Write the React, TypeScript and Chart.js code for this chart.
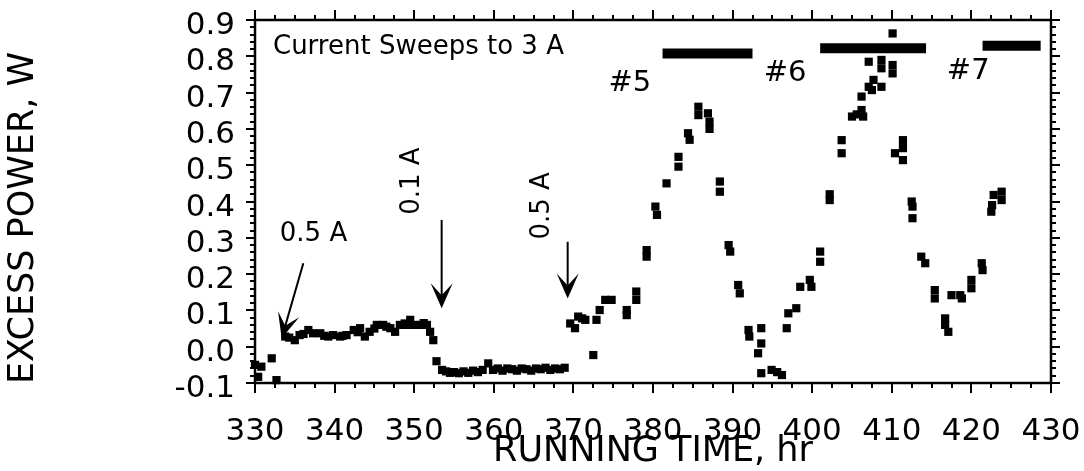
import React, { useEffect, useRef } from "react";
import { Chart, registerables } from "chart.js";

Chart.register(...registerables);

// ---- data ----
const timeHr = [
  330.0, 330.4, 330.8, 332.1, 332.7,
  333.8, 334.3, 335.0, 335.6, 336.1, 336.7, 337.3, 338.2, 338.7, 339.2, 339.8, 340.7, 341.0, 341.5,
  342.4, 342.9, 343.2, 343.8, 344.4, 345.0, 345.3, 346.1, 346.5, 347.0, 347.6, 348.2, 348.8, 349.1,
  349.5, 350.1, 350.9, 351.2, 351.6, 352.0, 352.4,
  352.8, 353.5, 354.0,
  354.5, 355.0, 355.6, 356.2, 356.8, 357.4, 358.0, 358.6, 359.3, 359.9, 360.5, 361.1, 361.7, 362.3,
  362.9, 363.5, 364.1, 364.7, 365.3, 365.9, 366.5, 367.1, 367.7, 368.3, 368.9,
  369.6, 370.2, 370.6, 371.1, 371.5, 372.5, 372.9, 373.3, 374.0, 374.8, 376.7, 376.7, 377.9, 377.9,
  379.2, 379.2, 380.3, 380.5, 381.7, 383.2, 383.2, 384.4, 384.6, 385.7, 385.7, 386.9, 387.1, 387.1,
  388.4, 388.4, 389.5, 389.7, 390.7, 390.9, 392.0, 392.1, 393.6, 393.6, 393.2, 393.6, 394.9, 395.6,
  396.2, 396.8, 397.0, 398.0, 398.5, 399.7, 399.9, 401.0, 401.0, 402.2, 402.2, 403.7, 403.7, 405.0,
  405.6, 406.4, 406.2, 406.2, 407.1, 407.1, 407.5, 407.7, 408.7, 408.7, 408.7, 410.1, 410.1, 410.1,
  411.4, 411.4, 411.4, 410.4, 412.5, 412.6, 412.6, 413.7, 414.2, 415.4, 415.4, 416.7, 416.7, 417.1,
  417.5, 418.6, 418.8, 420.0, 420.0, 421.3, 421.4, 422.5, 422.6, 422.8, 423.8, 423.8,
];
const powerW = [
  -0.050, -0.083, -0.055, -0.032, -0.092,
  0.028, 0.025, 0.018, 0.032, 0.035, 0.046, 0.037, 0.037, 0.030, 0.028, 0.032, 0.028, 0.030, 0.032,
  0.046, 0.040, 0.051, 0.028, 0.041, 0.050, 0.060, 0.060, 0.055, 0.051, 0.041, 0.060, 0.064, 0.060,
  0.074, 0.060, 0.060, 0.065, 0.060, 0.041, 0.018,
  -0.040, -0.064, -0.068,
  -0.072, -0.070, -0.073, -0.068, -0.072, -0.066, -0.070, -0.064, -0.046, -0.064, -0.060, -0.066, -0.060, -0.062,
  -0.066, -0.060, -0.062, -0.066, -0.060, -0.062, -0.058, -0.064, -0.060, -0.062, -0.058,
  0.064, 0.051, 0.083, 0.078, 0.074, -0.023, 0.074, 0.101, 0.129, 0.129, 0.101, 0.087, 0.152, 0.129,
  0.266, 0.248, 0.386, 0.363, 0.450, 0.523, 0.496, 0.588, 0.570, 0.661, 0.638, 0.643, 0.620, 0.600,
  0.455, 0.427, 0.280, 0.262, 0.170, 0.147, 0.046, 0.028, 0.051, 0.009, -0.018, -0.073, -0.064, -0.070,
  -0.078, 0.051, 0.092, 0.106, 0.165, 0.184, 0.165, 0.262, 0.234, 0.404, 0.420, 0.569, 0.533, 0.634,
  0.640, 0.634, 0.689, 0.652, 0.785, 0.716, 0.707, 0.735, 0.790, 0.767, 0.716, 0.863, 0.776, 0.753,
  0.569, 0.547, 0.514, 0.533, 0.400, 0.386, 0.354, 0.248, 0.230, 0.156, 0.133, 0.078, 0.060, 0.041,
  0.142, 0.142, 0.133, 0.184, 0.161, 0.230, 0.211, 0.372, 0.390, 0.418, 0.404, 0.427,
];

// current-sweep bars (#5, #6, #7)
const barStart = [381.2, 401.0, 421.4];
const barEnd = [392.5, 414.3, 428.7];
const barLevel = [0.808, 0.822, 0.829];

// annotations
const noteText = ["Current Sweeps to 3 A", "0.5 A", "0.1 A", "0.5 A", "#5", "#6", "#7"];
const noteX = [332.26, 337.35, 349.72, 366.06, 377.1, 396.6, 419.6];
const noteY = [0.826, 0.31, 0.456, 0.388, 0.726, 0.754, 0.757];
const noteRotated = [false, false, true, true, false, false, false];

// arrows
const arrowFromX = [336.07, 353.45, 369.28];
const arrowFromY = [0.23, 0.349, 0.289];
const arrowToX = [333.35, 353.45, 369.28];
const arrowToY = [0.023, 0.106, 0.133];

// axis ticks
const xMin = 330, xMax = 430, xMajor = 10, xMinor = 2.5;
const yMin = -0.1, yMax = 0.9, yMajor = 0.1, yMinor = 0.02;

const xTitle = "RUNNING TIME, hr";
const yTitle = "EXCESS POWER, W";

const FONT = "'DejaVu Sans', 'Verdana', sans-serif";

function drawArrow(ctx: CanvasRenderingContext2D, x1: number, y1: number, x2: number, y2: number) {
  const ang = Math.atan2(y2 - y1, x2 - x1);
  const c = Math.cos(ang), s = Math.sin(ang);
  const L = 25, W = 11, N = 13;
  const bx = x2 - c * N, by = y2 - s * N;
  ctx.beginPath();
  ctx.moveTo(x1, y1);
  ctx.lineTo(bx, by);
  ctx.lineWidth = 2;
  ctx.strokeStyle = "#000";
  ctx.stroke();
  ctx.beginPath();
  ctx.moveTo(x2, y2);
  ctx.lineTo(x2 - c * L - s * W, y2 - s * L + c * W);
  ctx.lineTo(bx, by);
  ctx.lineTo(x2 - c * L + s * W, y2 - s * L - c * W);
  ctx.closePath();
  ctx.fillStyle = "#000";
  ctx.fill();
}

function noPad(s: any) {
  s.paddingTop = 0;
  s.paddingBottom = 0;
  s.paddingLeft = 0;
  s.paddingRight = 0;
}

export default function App() {
  const ref = useRef<HTMLCanvasElement>(null);

  useEffect(() => {
    const canvas = ref.current;
    if (!canvas) return;

    const points = timeHr.map((x, i) => ({ x, y: powerW[i] }));
    const barSets = barStart.map((s, i) => ({
      type: "line" as const,
      data: [
        { x: s, y: barLevel[i] },
        { x: barEnd[i], y: barLevel[i] },
      ],
      borderColor: "#000",
      backgroundColor: "#000",
      borderWidth: 10,
      borderCapStyle: "butt" as const,
      pointRadius: 0,
      showLine: true,
      fill: false,
      clip: false as const,
    }));

    const decor = {
      id: "decor",
      afterDraw(chart: any) {
        const { ctx, chartArea: a, scales } = chart;
        const xs = scales.x, ys = scales.y;
        ctx.save();
        ctx.strokeStyle = "#000";
        ctx.fillStyle = "#000";
        // frame
        ctx.lineWidth = 2.5;
        ctx.strokeRect(a.left, a.top, a.right - a.left, a.bottom - a.top);
        // ticks
        ctx.lineWidth = 2;
        ctx.beginPath();
        const nx = Math.round((xMax - xMin) / xMinor);
        for (let i = 0; i <= nx; i++) {
          const v = xMin + i * xMinor;
          const px = Math.round(xs.getPixelForValue(v));
          const major = i % Math.round(xMajor / xMinor) === 0;
          const len = major ? 10 : 5;
          ctx.moveTo(px, a.bottom);
          ctx.lineTo(px, a.bottom + len);
          ctx.moveTo(px, a.top);
          ctx.lineTo(px, a.top - len);
        }
        const ny = Math.round((yMax - yMin) / yMinor);
        for (let i = 0; i <= ny; i++) {
          const v = yMin + i * yMinor;
          const py = Math.round(ys.getPixelForValue(v));
          const major = i % Math.round(yMajor / yMinor) === 0;
          const len = major ? 9 : 5;
          ctx.moveTo(a.left, py);
          ctx.lineTo(a.left - len, py);
          ctx.moveTo(a.right, py);
          ctx.lineTo(a.right + len, py);
        }
        ctx.stroke();

        // arrows
        for (let i = 0; i < arrowFromX.length; i++) {
          drawArrow(
            ctx,
            xs.getPixelForValue(arrowFromX[i]),
            ys.getPixelForValue(arrowFromY[i]),
            xs.getPixelForValue(arrowToX[i]),
            ys.getPixelForValue(arrowToY[i])
          );
        }

        // notes
        ctx.fillStyle = "#000";
        ctx.textBaseline = "middle";
        for (let i = 0; i < noteText.length; i++) {
          const px = xs.getPixelForValue(noteX[i]);
          const py = ys.getPixelForValue(noteY[i]);
          const t = noteText[i];
          const size = i === 0 ? 26 : t.startsWith("#") ? 29 : 26;
          ctx.font = `${size}px ${FONT}`;
          ctx.save();
          ctx.translate(px, py);
          if (noteRotated[i]) ctx.rotate(-Math.PI / 2);
          ctx.textAlign = i === 0 ? "left" : "center";
          ctx.fillText(t, 0, 0);
          ctx.restore();
        }

        // axis titles
        ctx.font = `35px ${FONT}`;
        ctx.textAlign = "center";
        ctx.textBaseline = "middle";
        ctx.fillText(xTitle, (a.left + a.right) / 2, 452);
        ctx.save();
        ctx.translate(24, 218);
        ctx.rotate(-Math.PI / 2);
        ctx.fillText(yTitle, 0, 0);
        ctx.restore();
        ctx.restore();
      },
    };

    const chart = new Chart(canvas, {
      type: "scatter",
      data: {
        datasets: [
          {
            data: points,
            pointStyle: "rect",
            pointRadius: 5.8,
            pointHoverRadius: 5.8,
            backgroundColor: "#000",
            borderColor: "#000",
            borderWidth: 0,
            showLine: false,
            clip: false,
          } as any,
          ...(barSets as any[]),
        ],
      },
      options: {
        animation: false,
        responsive: false,
        events: [],
        layout: { padding: { top: 20, right: 33, left: 0, bottom: 0 } },
        plugins: { legend: { display: false }, tooltip: { enabled: false } },
        scales: {
          x: {
            type: "linear",
            position: "bottom",
            min: xMin,
            max: xMax,
            grid: { display: false, drawTicks: false },
            border: { display: false },
            ticks: {
              stepSize: xMajor,
              autoSkip: false,
              maxRotation: 0,
              color: "#000",
              padding: 30,
              font: { family: FONT, size: 31 },
              callback: (v: any) => String(Math.round(Number(v))),
            },
            afterFit: (s: any) => {
              s.height = 88;
              noPad(s);
            },
          },
          y: {
            type: "linear",
            position: "left",
            min: yMin,
            max: yMax,
            grid: { display: false, drawTicks: false },
            border: { display: false },
            ticks: {
              stepSize: yMajor,
              autoSkip: false,
              color: "#000",
              padding: 20,
              labelOffset: 6,
              font: { family: FONT, size: 31 },
              callback: (v: any) => {
                const n = Math.round(Number(v) * 10) / 10;
                return (n === 0 ? 0 : n).toFixed(1);
              },
            },
            afterFit: (s: any) => {
              s.width = 255;
              noPad(s);
            },
          },
        },
      },
      plugins: [decor],
    } as any);

    return () => chart.destroy();
  }, []);

  return (
    <div style={{ position: "absolute", left: 0, top: 0, width: 1084, height: 471, background: "#fff" }}>
      <canvas ref={ref} width={1084} height={471} style={{ display: "block" }} />
    </div>
  );
}
